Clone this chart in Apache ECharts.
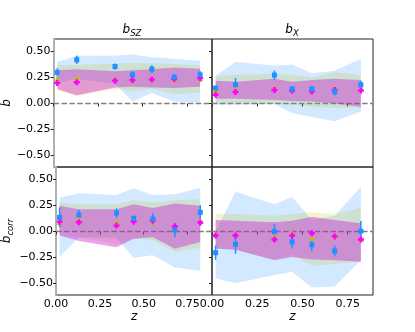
<!DOCTYPE html>
<html>
<head>
<meta charset="utf-8">
<script src="https://cdn.jsdelivr.net/npm/echarts@6/dist/echarts.min.js"></script>
<style>
  html, body { margin: 0; padding: 0; background: #fff; }
  #chart { width: 415px; height: 332px; }
</style>
</head>
<body>
<div id="chart"></div>
<script>
// redshift bins (same for every panel)
const zVals = [0.02, 0.13, 0.345, 0.443, 0.552, 0.678, 0.823];
const xTicks = [0, 0.25, 0.5, 0.75];
const yTicks = [-0.5, -0.25, 0, 0.25, 0.5];

// top left: b, SZ
const szBlue = [0.30, 0.42, 0.355, 0.276, 0.33, 0.254, 0.276];
const szBlueErr = [0.04, 0.04, 0.03, 0.035, 0.037, 0.025, 0.037];
const szOlive = [0.235, 0.25, 0.24, 0.235, 0.24, 0.235, 0.24];
const szMag = [0.196, 0.205, 0.22, 0.225, 0.23, 0.235, 0.244];
const szBlueLo = [0.20, 0.235, 0.19, 0.02, 0.10, 0.02, 0.01];
const szBlueHi = [0.40, 0.46, 0.46, 0.47, 0.445, 0.43, 0.41];
const szOliveLo = [0.13, 0.07, 0.14, 0.12, 0.14, 0.09, 0.105];
const szOliveHi = [0.37, 0.37, 0.385, 0.39, 0.39, 0.38, 0.365];
const szMagLo = [0.14, 0.08, 0.155, 0.16, 0.155, 0.148, 0.16];
const szMagHi = [0.32, 0.33, 0.31, 0.32, 0.33, 0.345, 0.335];

// top right: b, X
const xBlue = [0.148, 0.18, 0.273, 0.138, 0.138, 0.115, 0.18];
const xBlueErr = [0.02, 0.065, 0.045, 0.03, 0.03, 0.04, 0.04];
const xOlive = [0.13, 0.14, 0.155, 0.138, 0.125, 0.15, 0.15];
const xMag = [0.084, 0.11, 0.13, 0.122, 0.115, 0.13, 0.124];
const xBlueLo = [-0.01, -0.01, -0.005, -0.09, -0.13, -0.17, -0.077];
const xBlueHi = [0.266, 0.40, 0.366, 0.372, 0.29, 0.315, 0.43];
const xOliveLo = [0.0, 0.0, 0.0, -0.01, -0.03, -0.04, -0.045];
const xOliveHi = [0.26, 0.276, 0.285, 0.276, 0.25, 0.30, 0.276];
const xMagLo = [0.045, 0.045, 0.035, 0.025, 0.02, 0.0, -0.03];
const xMagHi = [0.218, 0.21, 0.237, 0.21, 0.227, 0.237, 0.227];

// bottom left: b_corr, SZ
const cszBlue = [0.136, 0.158, 0.177, 0.127, 0.12, 0.016, 0.184];
const cszBlueErr = [0.095, 0.05, 0.045, 0.035, 0.06, 0.068, 0.07];
const cszOlive = [0.095, 0.127, 0.095, 0.136, 0.095, 0.066, 0.104];
const cszMag = [0.095, 0.089, 0.057, 0.095, 0.104, 0.05, 0.085];
const cszBlueLo = [-0.244, -0.054, -0.063, -0.253, -0.228, -0.345, -0.377];
const cszBlueHi = [0.326, 0.367, 0.35, 0.415, 0.35, 0.357, 0.42];
const cszOliveLo = [-0.022, -0.06, -0.12, -0.07, -0.085, -0.196, -0.155];
const cszOliveHi = [0.28, 0.263, 0.263, 0.304, 0.28, 0.304, 0.31];
const cszMagLo = [-0.038, -0.09, -0.15, -0.07, -0.054, -0.165, -0.10];
const cszMagHi = [0.247, 0.215, 0.215, 0.263, 0.225, 0.27, 0.247];

// bottom right: b_corr, X
const cxBlue = [-0.203, -0.123, 0.0, -0.10, -0.127, -0.187, 0.003];
const cxBlueErr = [0.068, 0.09, 0.076, 0.06, 0.063, 0.052, 0.098];
const cxOlive = [-0.022, -0.022, -0.047, -0.013, -0.06, -0.047, -0.07];
const cxMag = [-0.038, -0.038, -0.076, -0.038, -0.016, -0.047, -0.076];
const cxBlueLo = [-0.45, -0.497, -0.418, -0.386, -0.538, -0.528, -0.275];
const cxBlueHi = [0.0, 0.383, 0.263, 0.332, 0.11, 0.152, 0.427];
const cxOliveLo = [-0.155, -0.174, -0.27, -0.22, -0.33, -0.313, -0.29];
const cxOliveHi = [0.174, 0.168, 0.152, 0.168, 0.184, 0.168, 0.231];
const cxMagLo = [-0.165, -0.174, -0.275, -0.244, -0.27, -0.275, -0.29];
const cxMagHi = [0.11, 0.104, 0.089, 0.104, 0.142, 0.11, 0.079];

const FONT = 'DejaVu Sans';
const BLUE = '#1e90ff', OLIVE = '#bfbf00', MAG = '#ff00ff';
const BAND_BLUE = 'rgba(30,144,255,0.2)';
const BAND_OLIVE = 'rgba(191,191,0,0.18)';
const BAND_MAG = 'rgba(200,0,210,0.36)';
const PLUS = 'path://M3,0H7V3H10V7H7V10H3V7H0V3H3Z';

const panels = [
    { blue: szBlue, err: szBlueErr, olive: szOlive, mag: szMag,
      bands: [[szBlueLo, szBlueHi], [szOliveLo, szOliveHi], [szMagLo, szMagHi]] },
    { blue: xBlue, err: xBlueErr, olive: xOlive, mag: xMag,
      bands: [[xBlueLo, xBlueHi], [xOliveLo, xOliveHi], [xMagLo, xMagHi]] },
    { blue: cszBlue, err: cszBlueErr, olive: cszOlive, mag: cszMag,
      bands: [[cszBlueLo, cszBlueHi], [cszOliveLo, cszOliveHi], [cszMagLo, cszMagHi]] },
    { blue: cxBlue, err: cxBlueErr, olive: cxOlive, mag: cxMag,
      bands: [[cxBlueLo, cxBlueHi], [cxOliveLo, cxOliveHi], [cxMagLo, cxMagHi]] }
];

const grids = [
    { left: 52, top: 39, width: 160, height: 128 },
    { left: 212, top: 39, width: 161, height: 128 },
    { left: 52, top: 167, width: 160, height: 128 },
    { left: 212, top: 167, width: 161, height: 128 }
].map(g => Object.assign(g, { show: true, borderColor: '#222', borderWidth: 1, backgroundColor: 'transparent' }));

const fmt = v => v.toFixed(2).replace('-', '\u2212');

const mathRich = {
    i: { fontFamily: FONT, fontStyle: 'italic', fontSize: 12, color: '#000', lineHeight: 14 },
    s: { fontFamily: FONT, fontStyle: 'italic', fontSize: 8.5, color: '#000', padding: [8, 0, 0, 0] }
};

const xAxes = grids.map((g, gi) => ({
    type: 'value', gridIndex: gi, min: 0, max: 0.89,
    splitLine: { show: false },
    axisLine: { show: false },
    axisTick: { show: true, length: 3, customValues: xTicks, lineStyle: { color: '#222' } },
    axisLabel: { show: gi >= 2, customValues: xTicks, formatter: fmt, margin: 4,
        fontFamily: FONT, fontSize: 11, color: '#000' },
    name: gi >= 2 ? '{i|z}' : '', nameLocation: 'middle', nameGap: 12,
    nameTextStyle: { rich: mathRich }
}));

const yAxes = grids.map((g, gi) => ({
    type: 'value', gridIndex: gi, min: -0.61, max: 0.62,
    splitLine: { show: false },
    axisLine: { show: gi % 2 === 0, lineStyle: { color: '#b0b0b0', width: 2 } },
    axisTick: { show: true, length: 3, customValues: yTicks, lineStyle: { color: '#222' } },
    axisLabel: { show: gi % 2 === 0, customValues: yTicks, formatter: fmt, margin: 3,
        fontFamily: FONT, fontSize: 11, color: '#000' },
    name: gi === 0 ? '{i|b}' : (gi === 2 ? '{i|b}{s|corr}' : ''),
    nameLocation: 'middle', nameRotate: 90, nameGap: 35,
    nameTextStyle: { rich: mathRich }
}));

function bandSeries(gi, lo, hi, color) {
    return {
        type: 'custom', xAxisIndex: gi, yAxisIndex: gi, z: 2, silent: true,
        data: zVals.map((z, i) => [z, lo[i], hi[i]]),
        renderItem: function (params, api) {
            if (params.dataIndex !== 0) return null;
            const top = zVals.map((z, i) => api.coord([z, hi[i]]));
            const bot = zVals.map((z, i) => api.coord([z, lo[i]])).reverse();
            return { type: 'polygon', shape: { points: top.concat(bot) }, style: { fill: color } };
        }
    };
}

function errSeries(gi, vals, errs, color) {
    return {
        type: 'custom', xAxisIndex: gi, yAxisIndex: gi, z: 3, silent: true,
        data: zVals.map((z, i) => [z, vals[i], errs[i]]),
        renderItem: function (params, api) {
            const p1 = api.coord([api.value(0), api.value(1) - api.value(2)]);
            const p2 = api.coord([api.value(0), api.value(1) + api.value(2)]);
            return { type: 'line', shape: { x1: p1[0], y1: p1[1], x2: p2[0], y2: p2[1] },
                style: { stroke: color, lineWidth: 1.5 } };
        }
    };
}

function markerSeries(gi, vals, symbol, size, color) {
    return {
        type: 'scatter', xAxisIndex: gi, yAxisIndex: gi, z: 4, silent: true,
        symbol: symbol, symbolSize: size,
        itemStyle: { color: color, opacity: 1 },
        data: zVals.map((z, i) => [z, vals[i]])
    };
}

const series = [];
panels.forEach((p, gi) => {
    series.push({
        type: 'line', xAxisIndex: gi, yAxisIndex: gi, z: 1, silent: true, symbol: 'none',
        data: [[0, 0], [0.89, 0]],
        lineStyle: { color: '#808080', width: 1.5, type: [5.5, 2.4] }
    });
    series.push(bandSeries(gi, p.bands[0][0], p.bands[0][1], BAND_BLUE));
    series.push(bandSeries(gi, p.bands[1][0], p.bands[1][1], BAND_OLIVE));
    series.push(bandSeries(gi, p.bands[2][0], p.bands[2][1], BAND_MAG));
    series.push(errSeries(gi, p.blue, p.err, BLUE));
    series.push(markerSeries(gi, p.olive, 'triangle', 6, OLIVE));
    series.push(markerSeries(gi, p.mag, PLUS, 6, MAG));
    series.push(markerSeries(gi, p.blue, 'rect', 5, BLUE));
});

const titleText = (main, sub, x) => ({
    type: 'text', x: x, y: 38,
    style: { text: '{i|' + main + '}{s|' + sub + '}', rich: mathRich,
        align: 'center', verticalAlign: 'bottom' }
});

const chart = echarts.init(document.getElementById('chart'), null, { renderer: 'canvas' });
chart.setOption({
    animation: false,
    grid: grids,
    xAxis: xAxes,
    yAxis: yAxes,
    series: series,
    graphic: [titleText('b', 'SZ', 132), titleText('b', 'X', 292)]
});
</script>
</body>
</html>
